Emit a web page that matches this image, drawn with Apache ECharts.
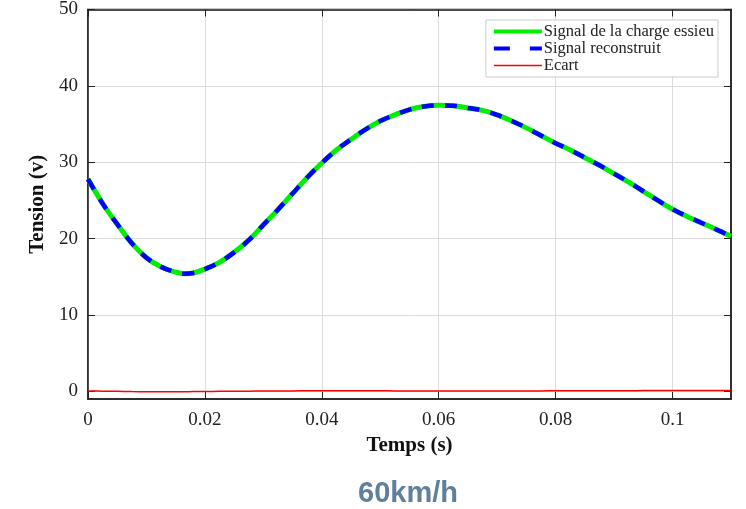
<!DOCTYPE html>
<html><head><meta charset="utf-8">
<script src="https://cdn.jsdelivr.net/npm/echarts@6/dist/echarts.min.js"></script>
<style>html,body{margin:0;padding:0;background:#fff}#c{width:746px;height:509px}</style>
</head><body><div id="c"></div>
<script>
const temps = [0,0.0025,0.005,0.0075,0.01,0.0125,0.015,0.0165,0.018,0.02,0.0225,0.025,0.0275,0.03,0.0325,0.035,0.0375,0.04,0.0425,0.045,0.0475,0.05,0.0525,0.055,0.0575,0.06,0.0625,0.065,0.0675,0.07,0.0725,0.075,0.0775,0.08,0.0825,0.085,0.0875,0.09,0.0925,0.095,0.0975,0.1,0.1025,0.105,0.1075,0.11];
const signalCharge = [27.8,24.6,21.9,19.4,17.5,16.3,15.6,15.4,15.5,16.0,16.9,18.2,19.8,21.8,23.8,25.9,28.0,29.9,31.6,33.0,34.3,35.4,36.2,36.9,37.3,37.45,37.4,37.1,36.8,36.2,35.4,34.5,33.5,32.5,31.6,30.6,29.6,28.5,27.4,26.2,25.0,23.85,22.9,22.05,21.2,20.3];
const signalReconstruit = signalCharge.slice();
const ecart = [0.05,0.03,0.0,-0.03,-0.05,-0.06,-0.05,-0.04,-0.03,-0.02,0.0,0.02,0.03,0.04,0.05,0.06,0.07,0.08,0.08,0.09,0.08,0.07,0.06,0.05,0.04,0.04,0.04,0.05,0.05,0.05,0.06,0.06,0.06,0.07,0.07,0.08,0.08,0.09,0.09,0.1,0.1,0.11,0.11,0.12,0.12,0.12];
const xTicks = [0,0.02,0.04,0.06,0.08,0.1];
const yTicks = [0,10,20,30,40,50];

const pair = a => temps.map((t,i)=>[t,a[i]]);
const serif = '"Liberation Serif","DejaVu Serif",serif';
const chart = echarts.init(document.getElementById('c'));
chart.setOption({
  animation:false,
  backgroundColor:'#fff',
  title:{text:'60km/h',left:403,textAlign:'center',top:474,textStyle:{fontFamily:'"Liberation Sans",Arial,sans-serif',fontWeight:'bold',fontSize:29,color:'#5f7f9a'}},
  grid:{left:88,right:15,top:8,bottom:110,show:true,borderColor:'#222',borderWidth:1.5,backgroundColor:'#fff'},
  legend:{
    orient:'vertical',right:28,top:20,
    backgroundColor:'#fff',borderColor:'#ccc',borderWidth:1,padding:[3,4,3,6],
    itemWidth:48,itemHeight:14,itemGap:0,
    itemStyle:{opacity:0},
    textStyle:{fontFamily:serif,fontSize:16.5,color:'#222',lineHeight:14,padding:[0,0,0,-3]},
    data:[
      {name:'Signal de la charge essieu',lineStyle:{width:4}},
      {name:'Signal reconstruit',lineStyle:{width:4,type:[16,20]}},
      {name:'Ecart',lineStyle:{width:1.5}}
    ]
  },
  xAxis:[{
    type:'value',min:0,max:0.11,interval:0.02,
    name:'Temps (s)',nameLocation:'middle',nameGap:36,
    nameTextStyle:{fontFamily:serif,fontWeight:'bold',fontSize:21,color:'#111'},
    axisLine:{show:true,onZero:false,lineStyle:{color:'#222',width:1.5}},
    axisTick:{show:true,inside:true,length:7,lineStyle:{color:'#222'},customValues:xTicks},
    axisLabel:{fontFamily:serif,fontSize:19,color:'#222',margin:12,customValues:xTicks,formatter:v=>String(+v.toFixed(2))},
    splitLine:{show:true,lineStyle:{color:'#dcdcdc',width:1}}
  },{
    type:'value',min:0,max:0.11,position:'top',
    axisLine:{show:true,onZero:false,lineStyle:{color:'#222',width:1.5}},
    axisTick:{show:true,inside:true,length:7,lineStyle:{color:'#222'},customValues:xTicks},
    axisLabel:{show:false},splitLine:{show:false}
  }],
  yAxis:[{
    type:'value',min:-1,max:50,
    name:'Tension (v)',nameLocation:'middle',nameGap:40,nameRotate:90,
    nameTextStyle:{fontFamily:serif,fontWeight:'bold',fontSize:21,color:'#111'},
    axisLine:{show:true,onZero:false,lineStyle:{color:'#222',width:1.5}},
    axisTick:{show:true,inside:true,length:7,lineStyle:{color:'#222'},customValues:yTicks},
    axisLabel:{fontFamily:serif,fontSize:19,color:'#222',margin:10,customValues:yTicks},
    splitLine:{show:true,lineStyle:{color:'#dcdcdc',width:1}}
  },{
    type:'value',min:-1,max:50,position:'right',
    axisLine:{show:true,onZero:false,lineStyle:{color:'#222',width:1.5}},
    axisTick:{show:true,inside:true,length:7,lineStyle:{color:'#222'},customValues:yTicks},
    axisLabel:{show:false},splitLine:{show:false}
  }],
  series:[
    {name:'Signal de la charge essieu',type:'line',data:pair(signalCharge),smooth:0.4,symbol:'none',
     lineStyle:{color:'#00ee00',width:5},itemStyle:{color:'#00ee00'},z:2},
    {name:'Signal reconstruit',type:'line',data:pair(signalReconstruit),smooth:0.4,symbol:'none',
     lineStyle:{color:'#0000ff',width:4.5,type:[12,11]},itemStyle:{color:'#0000ff'},z:3},
    {name:'Ecart',type:'line',data:pair(ecart),smooth:0.4,symbol:'none',
     lineStyle:{color:'#ff0000',width:1.5},itemStyle:{color:'#ff0000'},z:4}
  ]
});
</script></body></html>
